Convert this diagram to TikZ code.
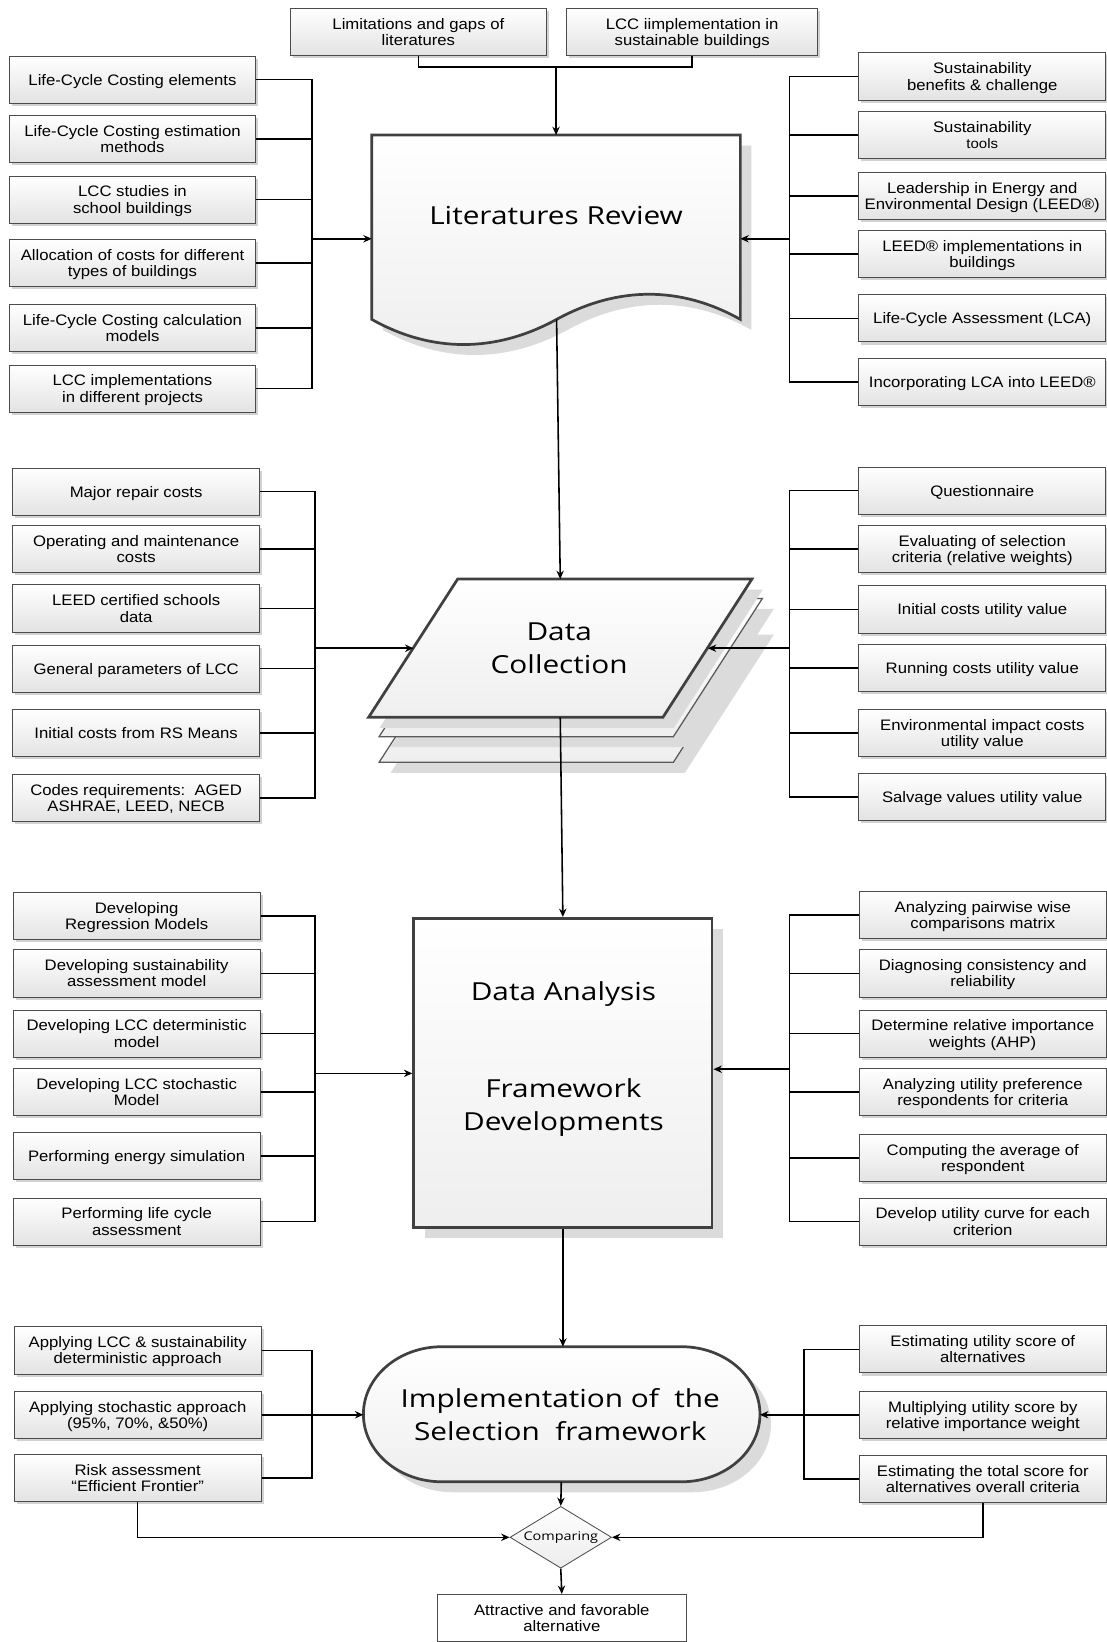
\documentclass[tikz,border=0pt]{standalone}
\usepackage{fontspec}
\setmainfont{Liberation Sans}[FakeStretch=1.1]
\newfontfamily\bigfont{Open Sans}[FakeStretch=1.2]
\usetikzlibrary{shapes.geometric,arrows.meta,shadows}

\begin{document}
\begin{tikzpicture}[x=1pt,y=-1pt,
  sbox/.style={draw=gray!60!black, line width=0.8pt, top color=white, bottom color=gray!22,
    drop shadow={shadow xshift=2.5pt,shadow yshift=-2.5pt,fill=gray!70,opacity=0.5},
    align=center, inner sep=0pt, text depth=0pt, font=\fontsize{14.5}{15.5}\selectfont,
    minimum height=45pt},
  link/.style={line width=1.5pt, draw=black},
  arr/.style={link, -{Stealth[length=8pt,width=7pt]}},
  main/.style={draw=black!75, line width=2.6pt, top color=white, bottom color=gray!13,
    drop shadow={shadow xshift=10.5pt,shadow yshift=-10pt,fill=gray!28,opacity=1}},
  sheet/.style={draw=black!65, line width=1.2pt, top color=white, bottom color=gray!13,
    drop shadow={shadow xshift=11pt,shadow yshift=-10pt,fill=gray!28,opacity=1}},
  bigtext/.style={font=\bigfont\fontsize{23.7}{31}\selectfont, align=center, inner sep=0pt},
]
\useasboundingbox (0,0) rectangle (1057,1568);

% ---------- main process shapes ----------
% Literatures Review (document shape)
\path[main] (355,129) -- (707,129) -- (707,305)
  .. controls (650,273) and (590,273) .. (531.5,305)
  .. controls (473,337) and (412,337) .. (355,305) -- cycle;
\node[bigtext] (lrtext) at (531,206) {Literatures Review};
\coordinate (lr-top) at (531,129);
\coordinate (lr-left) at (355,228);
\coordinate (lr-right) at (707,228);
\coordinate (lr-bot) at (531.5,305);

% Data Collection (stack of sheets)
\begin{scope}[shift={(10,43)}]
  \path[sheet] (437,553) -- (718,553) -- (633,685) -- (352,685) -- cycle;
\end{scope}
\begin{scope}[shift={(10,18.5)}]
  \path[sheet] (437,553) -- (718,553) -- (633,685) -- (352,685) -- cycle;
\end{scope}
\path[main] (437,553) -- (718,553) -- (633,685) -- (352,685) -- cycle;
\node[bigtext] (dctext) at (534,619) {Data\\Collection};
\coordinate (dc-top) at (535,553);
\coordinate (dc-bot) at (535,685);
\coordinate (dc-left) at (394.8,619);
\coordinate (dc-right) at (676,619);

% Data Analysis / Framework Developments
\node[main, minimum width=285pt, minimum height=295pt, inner sep=0pt] (da) at (537.5,1024.5) {};
\node[bigtext] (datext) at (538,1011) {Data Analysis\\[0pt]\mbox{}\\\mbox{}\\Framework\\Developments};

% Implementation (terminator shape)
\path[main] (422,1286) -- (650.7,1286)
  arc[start angle=90,end angle=-90,x radius=75pt,y radius=64.5pt]
  -- (422,1415)
  arc[start angle=270,end angle=90,x radius=75pt,y radius=64.5pt] -- cycle;
\node[bigtext] (imtext) at (535,1351) {Implementation of\ \ the\\Selection\ \ framework};
\coordinate (im-top) at (537.5,1286);
\coordinate (im-bot) at (536,1415);
\coordinate (im-left) at (347,1351);
\coordinate (im-right) at (725.7,1351);

% Comparing and result
\node[diamond, draw=gray!60!black, line width=0.8pt, top color=white, bottom color=gray!15,
  minimum width=97pt, minimum height=59pt, aspect=1.64, inner sep=0pt,
  font=\bigfont\fontsize{11.5}{13}\selectfont] (cmp) at (535.5,1468) {Comparing};
\node[draw=gray!60!black, line width=0.8pt, fill=white, minimum width=237pt, minimum height=45pt,
  align=center, inner sep=0pt, text depth=0pt, font=\fontsize{14.5}{15.5}\selectfont] (fin) at (536.5,1545)
  {Attractive and favorable\\alternative};

% ---------- input boxes ----------
\node[sbox, minimum width=245pt] (t1) at (399.5,30.5) {Limitations and gaps of\\literatures};
\node[sbox, minimum width=240pt] (t2) at (661,30.5) {LCC iimplementation in\\sustainable buildings};

\begin{scope}[every node/.style={sbox, minimum width=235pt}]
\node (l1) at (126.5,76) {Life-Cycle Costing elements};
\node (l2) at (126.5,133) {Life-Cycle Costing estimation\\methods};
\node (l3) at (126.5,190.5) {LCC studies in\\school buildings};
\node (l4) at (126.5,251) {Allocation of costs for different\\types of buildings};
\node (l5) at (126.5,313) {Life-Cycle Costing calculation\\models};
\node (l6) at (126.5,371) {LCC implementations\\in different projects};
\end{scope}

\begin{scope}[every node/.style={sbox, minimum width=236pt}]
\node (r1) at (938,73) {Sustainability\\benefits \& challenge};
\node (r2) at (938,129) {Sustainability\\{\fontsize{13}{15}\selectfont tools}};
\node (r3) at (938,187) {Leadership in Energy and\\Environmental Design (LEED®)};
\node (r4) at (938,242.5) {LEED® implementations in\\buildings};
\node (r5) at (938,304) {Life-Cycle Assessment (LCA)};
\node (r6) at (938,365) {Incorporating LCA into LEED®};
\end{scope}

\begin{scope}[every node/.style={sbox, minimum width=236pt}]
\node (m1) at (130,469.5) {Major repair costs};
\node (m2) at (130,524.5) {Operating and maintenance\\costs};
\node (m3) at (130,581) {LEED certified schools\\data};
\node (m4) at (130,638.5) {General parameters of LCC};
\node (m5) at (130,700) {Initial costs from RS Means};
\node (m6) at (130,762) {Codes requirements:\ \ AGED\\ASHRAE, LEED, NECB};
\node (q1) at (938,468.5) {Questionnaire};
\node (q2) at (938,524) {Evaluating of selection\\criteria (relative weights)};
\node (q3) at (938,582) {Initial costs utility value};
\node (q4) at (938,638) {Running costs utility value};
\node (q5) at (938,700) {Environmental impact costs\\utility value};
\node (q6) at (938,761) {Salvage values utility value};
\end{scope}

\begin{scope}[every node/.style={sbox, minimum width=236pt}]
\node (d1) at (130.5,874.5) {Developing\\Regression Models};
\node (d2) at (130.5,929.5) {Developing sustainability\\assessment model};
\node (d3) at (130.5,987) {Developing LCC deterministic\\model};
\node (d4) at (130.5,1043) {Developing LCC stochastic\\Model};
\node (d5) at (130.5,1104) {Performing energy simulation};
\node (d6) at (130.5,1166.5) {Performing life cycle\\assessment};
\node (g1) at (938.5,874) {Analyzing pairwise wise\\comparisons matrix};
\node (g2) at (938.5,929.5) {Diagnosing consistency and\\reliability};
\node (g3) at (938.5,987) {Determine relative importance\\weights (AHP)};
\node (g4) at (938.5,1043) {Analyzing utility preference\\respondents for criteria};
\node (g5) at (938.5,1106) {Computing the average of\\respondent};
\node (g6) at (938.5,1166.5) {Develop utility curve for each\\criterion};
\end{scope}

\begin{scope}[every node/.style={sbox, minimum width=236pt}]
\node (a1) at (131.5,1289.5) {Applying LCC \& sustainability\\deterministic approach};
\node (a2) at (131.5,1351) {Applying stochastic approach\\(95\%, 70\%, \&50\%)};
\node (a3) at (131.5,1411.5) {Risk assessment\\“Efficient Frontier”};
\node (e1) at (938.5,1288.5) {Estimating utility score of\\alternatives};
\node (e2) at (938.5,1351) {Multiplying utility score by\\relative importance weight};
\node (e3) at (938.5,1412.5) {Estimating the total score for\\alternatives overall criteria};
\end{scope}

% ---------- bus junctions ----------
\coordinate (tb) at (531,64);
\coordinate (bl1) at (298,228);
\coordinate (br1) at (754,228);
\coordinate (bl2) at (301,619);
\coordinate (br2) at (754,619);
\coordinate (bl3) at (301,1025);
\coordinate (br3) at (754,1021);
\coordinate (bl4) at (298,1351);
\coordinate (br4) at (768,1351);

% ---------- connectors ----------
\draw[link] (t1.south) |- (tb);
\draw[link] (t2.south) |- (tb);
\draw[arr] (tb) -- (lr-top);

\foreach \n in {l1,l2,l3,l4,l5,l6} \draw[link] (\n.east) -| (bl1);
\foreach \n in {r1,r2,r3,r4,r5,r6} \draw[link] (\n.west) -| (br1);
\draw[arr] (bl1) -- (lr-left);
\draw[arr] (br1) -- (lr-right);

\foreach \n in {m1,m2,m3,m4,m5,m6} \draw[link] (\n.east) -| (bl2);
\foreach \n in {q1,q2,q3,q4,q5,q6} \draw[link] (\n.west) -| (br2);
\draw[arr] (bl2) -- (dc-left);
\draw[arr] (br2) -- (dc-right);

\foreach \n in {d1,d2,d3,d4,d5,d6} \draw[link] (\n.east) -| (bl3);
\foreach \n in {g1,g2,g3,g4,g5,g6} \draw[link] (\n.west) -| (br3);
\draw[arr] (bl3) -- (da.west |- bl3);
\draw[arr] (br3) -- (da.east |- br3);

\draw[link] (a1.east) -| (bl4);
\draw[link] (a3.east) -| (bl4);
\draw[arr] (a2.east) -- (im-left);
\draw[link] (e1.west) -| (br4);
\draw[link] (e3.west) -| (br4);
\draw[arr] (e2.west) -- (im-right);

\draw[arr] (lr-bot) -- (dc-top);
\draw[arr] (dc-bot) -- (da.north);
\draw[arr] (da.south) -- (im-top);
\draw[arr] (im-bot) -- (cmp.north);
\draw[arr] (a3.south) |- (cmp.west);
\draw[arr] (e3.south) |- (cmp.east);
\draw[arr] (cmp.south) -- (fin.north);
\end{tikzpicture}
\end{document}
